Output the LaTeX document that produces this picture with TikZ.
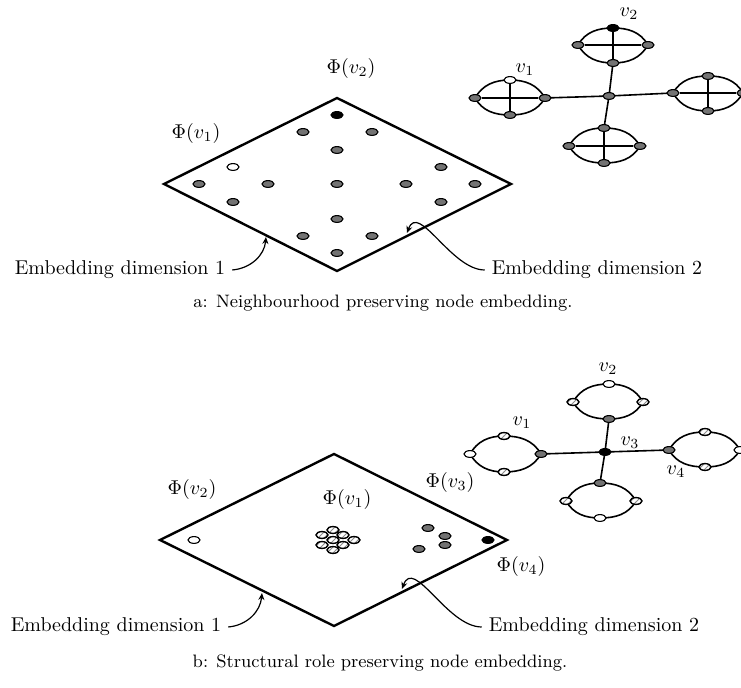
\documentclass[tikz,border=0pt]{standalone}
\usepackage[svgnames, dvipsnames]{xcolor}
\usepackage{amsmath,amssymb}
\usetikzlibrary{shapes.geometric, arrows.meta, patterns}
\pgfdeclarelayer{background}
\pgfsetlayers{background,main}

\begin{document}
\begin{tikzpicture}[x=0.5pt, y=0.5pt,
    mydot/.style={ellipse, minimum width=6pt, minimum height=3.4pt, inner sep=0pt, draw=black, line width=0.55pt, fill=black!55},
    mywhite/.style={mydot, fill=white},
    myblack/.style={mydot, fill=black},
    myhatch/.style={mydot, line width=0.7pt, preaction={fill=white}, pattern=north east lines, pattern color=black!45},
    myplane/.style={line width=1.2pt, line join=miter},
    mylink/.style={line width=0.8pt},
    myring/.style={mylink, looseness=1},
    myarrow/.style={line width=0.6pt, -{Stealth[length=3.5pt, width=3pt]}}]
    \useasboundingbox (0,0) rectangle (741,-688); % whole figure, both parts

    % ---- a: the plane ----
    \draw[myplane] (164,-184) -- (337,-98) -- (511,-184) -- (337,-271) -- cycle;
    \node[myblack] (pa1) at (337,-115) {};
    \node[mydot] (pa2) at (303,-132) {};
    \node[mydot] (pa3) at (372,-132) {};
    \node[mydot] (pa4) at (337,-150) {};
    \node[mywhite] (pa5) at (233,-167) {};
    \node[mydot] (pa6) at (441,-167) {};
    \node[mydot] (pa7) at (199,-184) {};
    \node[mydot] (pa8) at (268,-184) {};
    \node[mydot] (pa9) at (337,-184) {};
    \node[mydot] (pa10) at (406,-184) {};
    \node[mydot] (pa11) at (475,-184) {};
    \node[mydot] (pa12) at (233,-202) {};
    \node[mydot] (pa13) at (441,-202) {};
    \node[mydot] (pa14) at (337,-219) {};
    \node[mydot] (pa15) at (303,-236) {};
    \node[mydot] (pa16) at (372,-236) {};
    \node[mydot] (pa17) at (337,-253) {};
    \node (phia1) at (196,-134) {$\Phi(v_1)$};
    \node (phia2) at (351,-69) {$\Phi(v_2)$};

    % ---- a: the graph ----
    \node[mydot] (hubA) at (609,-96) {};
    \node[mydot] (aLw) at (475,-98) {};
    \node[mywhite] (aLn) at (510,-80) {};
    \node[mydot] (aLe) at (545,-98) {};
    \node[mydot] (aLs) at (510,-115) {};
    \node[mydot] (aNw) at (578,-45) {};
    \node[myblack] (aNn) at (613,-28) {};
    \node[mydot] (aNe) at (648,-45) {};
    \node[mydot] (aNs) at (613,-63) {};
    \node[mydot] (aEw) at (673,-93) {};
    \node[mydot] (aEn) at (708,-76) {};
    \node[mydot] (aEe) at (743,-93) {};
    \node[mydot] (aEs) at (708,-111) {};
    \node[mydot] (aSw) at (569,-146) {};
    \node[mydot] (aSn) at (604,-128) {};
    \node[mydot] (aSe) at (640,-146) {};
    \node[mydot] (aSs) at (604,-163) {};
    \node (va1) at (525,-70) {$v_1$};
    \node (va2) at (629,-14) {$v_2$};
    \begin{pgfonlayer}{background} % edges go under the nodes
    \draw[mylink] (hubA.center) -- (aLe.center) (hubA.center) -- (aNs.center) (hubA.center) -- (aEw.center) (hubA.center) -- (aSn.center);
    \draw[myring] (aLw.center) to[out=60, in=180] (aLn.center) to[out=0, in=120] (aLe.center) to[out=-120, in=0] (aLs.center) to[out=180, in=-60] (aLw.center);
    \draw[myring] (aNw.center) to[out=60, in=180] (aNn.center) to[out=0, in=120] (aNe.center) to[out=-120, in=0] (aNs.center) to[out=180, in=-60] (aNw.center);
    \draw[myring] (aEw.center) to[out=60, in=180] (aEn.center) to[out=0, in=120] (aEe.center) to[out=-120, in=0] (aEs.center) to[out=180, in=-60] (aEw.center);
    \draw[myring] (aSw.center) to[out=60, in=180] (aSn.center) to[out=0, in=120] (aSe.center) to[out=-120, in=0] (aSs.center) to[out=180, in=-60] (aSw.center);
    \draw[mylink] (aLw) -- (aLe) (aLn) -- (aLs) (aNw) -- (aNe) (aNn) -- (aNs); % crosses inside
    \draw[mylink] (aEw) -- (aEe) (aEn) -- (aEs) (aSw) -- (aSe) (aSn) -- (aSs);
    \end{pgfonlayer}

    % ---- a: axes and caption ----
    \node (dima1) at (120,-270) {Embedding dimension 1};
    \node (dima2) at (597,-270) {Embedding dimension 2};
    \coordinate (tipa1) at (266,-237);
    \coordinate (tipa2) at (407,-233);
    \draw[myarrow] (dima1.east) to[out=5, in=-95] (tipa1);
    \draw[myarrow] (dima2.west) to[out=180, in=70] (tipa2);
    \node (capa) at (383,-303) {\small a: Neighbourhood preserving node embedding.};

    % ---- b: the plane ----
    \draw[myplane] (160,-540) -- (334,-454) -- (507,-540) -- (334,-626) -- cycle;
    \node[mywhite] (pb1) at (194,-540) {};
    \node[myhatch] (pb2) at (322,-535) {};
    \node[myhatch] (pb3) at (322,-545) {};
    \node[myhatch] (pb4) at (333,-530) {};
    \node[myhatch] (pb5) at (333,-540) {};
    \node[myhatch] (pb6) at (333,-550) {};
    \node[myhatch] (pb7) at (343,-535) {};
    \node[myhatch] (pb8) at (343,-545) {};
    \node[myhatch] (pb9) at (354,-540) {};
    \node[mydot] (pb10) at (428,-528) {};
    \node[mydot] (pb11) at (445,-536) {};
    \node[mydot] (pb12) at (445,-545) {};
    \node[mydot] (pb13) at (419,-549) {};
    \node[myblack] (pb14) at (488,-540) {};
    \node (phib1) at (347,-500) {$\Phi(v_1)$};
    \node (phib2) at (192,-490) {$\Phi(v_2)$};
    \node (phib3) at (450,-483) {$\Phi(v_3)$};
    \node (phib4) at (521,-567) {$\Phi(v_4)$};

    % ---- b: the graph ----
    \node[myblack] (hubB) at (605,-452) {};
    \node[mywhite] (bLw) at (470,-454) {};
    \node[myhatch] (bLn) at (504,-436) {};
    \node[mydot] (bLe) at (541,-454) {};
    \node[myhatch] (bLs) at (504,-472) {};
    \node[myhatch] (bNw) at (573,-402) {};
    \node[mywhite] (bNn) at (609,-384) {};
    \node[myhatch] (bNe) at (643,-402) {};
    \node[mydot] (bNs) at (609,-419) {};
    \node[mydot] (bEw) at (669,-450) {};
    \node[myhatch] (bEn) at (705,-432) {};
    \node[mywhite] (bEe) at (740,-450) {};
    \node[myhatch] (bEs) at (705,-467) {};
    \node[myhatch] (bSw) at (566,-501) {};
    \node[mydot] (bSn) at (600,-483) {};
    \node[myhatch] (bSe) at (636,-501) {};
    \node[mywhite] (bSs) at (600,-518) {};
    \node (vb1) at (522,-423) {$v_1$};
    \node (vb2) at (608,-369) {$v_2$};
    \node (vb3) at (630,-443) {$v_3$};
    \node (vb4) at (676,-472) {$v_4$};
    \begin{pgfonlayer}{background}
    \draw[mylink] (hubB.center) -- (bLe.center) (hubB.center) -- (bNs.center) (hubB.center) -- (bEw.center) (hubB.center) -- (bSn.center);
    \draw[myring] (bLw.center) to[out=60, in=180] (bLn.center) to[out=0, in=120] (bLe.center) to[out=-120, in=0] (bLs.center) to[out=180, in=-60] (bLw.center);
    \draw[myring] (bNw.center) to[out=60, in=180] (bNn.center) to[out=0, in=120] (bNe.center) to[out=-120, in=0] (bNs.center) to[out=180, in=-60] (bNw.center);
    \draw[myring] (bEw.center) to[out=60, in=180] (bEn.center) to[out=0, in=120] (bEe.center) to[out=-120, in=0] (bEs.center) to[out=180, in=-60] (bEw.center);
    \draw[myring] (bSw.center) to[out=60, in=180] (bSn.center) to[out=0, in=120] (bSe.center) to[out=-120, in=0] (bSs.center) to[out=180, in=-60] (bSw.center);
    \end{pgfonlayer}

    % ---- b: axes and caption ----
    \node (dimb1) at (116,-627) {Embedding dimension 1};
    \node (dimb2) at (594,-627) {Embedding dimension 2};
    \coordinate (tipb1) at (262,-593);
    \coordinate (tipb2) at (402,-589);
    \draw[myarrow] (dimb1.east) to[out=5, in=-95] (tipb1);
    \draw[myarrow] (dimb2.west) to[out=180, in=70] (tipb2);
    \node (capb) at (380,-663) {\small b: Structural role preserving node embedding.};
\end{tikzpicture}
\end{document}
